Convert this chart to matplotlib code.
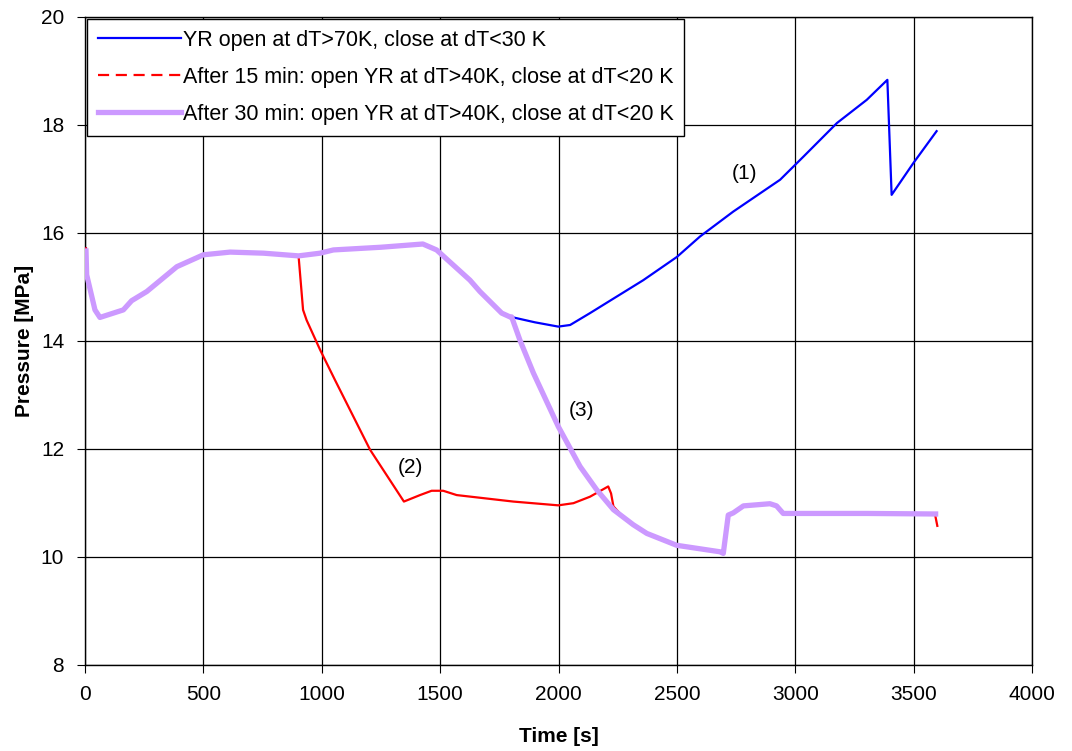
import numpy as np
import matplotlib
matplotlib.use('Agg')
import matplotlib.pyplot as plt
from matplotlib.lines import Line2D

plt.rcParams['font.family'] = ['Liberation Sans', 'DejaVu Sans']

# common start (all three cases identical up to ~900 s)
t_common = [4, 7, 42, 63, 162, 197, 261, 388, 500, 613, 754, 902]
p_common = [15.71, 15.22, 14.57, 14.43, 14.57, 14.74, 14.91, 15.37, 15.59, 15.64, 15.62, 15.57]

# case 1 / 3 shared part 900..1800 s
t_mid = [993, 1049, 1250, 1427, 1485, 1626, 1668, 1760, 1795]
p_mid = [15.62, 15.68, 15.73, 15.79, 15.68, 15.12, 14.91, 14.51, 14.44]

# (1) YR open at dT>70K
t_blue_end = [1809, 1900, 1999, 2049, 2133, 2203, 2358, 2500, 2598, 2738, 2936, 3035, 3176, 3302, 3389, 3407, 3499, 3597]
p_blue_end = [14.43, 14.34, 14.26, 14.29, 14.51, 14.70, 15.12, 15.55, 15.93, 16.39, 16.98, 17.41, 18.03, 18.46, 18.83, 16.70, 17.29, 17.88]

# tail common to (2) and (3)
t_tail = [2316, 2373, 2499, 2682, 2696, 2717, 2738, 2781, 2893, 2921, 2949, 3300, 3590]
p_tail = [10.59, 10.43, 10.21, 10.09, 10.06, 10.77, 10.81, 10.94, 10.98, 10.94, 10.80, 10.80, 10.79]

# (2) after 15 min
t_red_mid = [921, 936, 993, 1056, 1204, 1347, 1415, 1464, 1513, 1570, 1809, 1999, 2063, 2133, 2210, 2222, 2232, 2270]
p_red_mid = [14.57, 14.38, 13.83, 13.27, 11.98, 11.02, 11.14, 11.22, 11.22, 11.14, 11.02, 10.95, 10.99, 11.11, 11.30, 11.17, 10.93, 10.75]
t_red_end = [3600]
p_red_end = [10.57]

# (3) after 30 min
t_lil_mid = [1802, 1837, 1894, 1999, 2091, 2161, 2232]
p_lil_mid = [14.44, 14.01, 13.40, 12.41, 11.67, 11.24, 10.87]

t_blue = t_common + t_mid + t_blue_end
p_blue = p_common + p_mid + p_blue_end
t_red = t_common + t_red_mid + t_tail + t_red_end
p_red = p_common + p_red_mid + p_tail + p_red_end
t_lil = t_common + t_mid + t_lil_mid + t_tail + [3604]
p_lil = p_common + p_mid + p_lil_mid + p_tail + [10.79]

labels = ['YR open at dT>70K, close at dT<30 K',
          'After 15 min: open YR at dT>40K, close at dT<20 K',
          'After 30 min: open YR at dT>40K, close at dT<20 K']

fig = plt.figure(figsize=(10.72, 7.51), dpi=100)
ax = fig.add_axes([0.0793, 0.115, 0.8834, 0.8628])

ax.plot(t_blue, p_blue, color='#0000FF', lw=1.6, zorder=3)
ax.plot(t_red, p_red, color='#FF0000', lw=1.6, zorder=4)
ax.plot(t_lil, p_lil, color='#CC99FF', lw=3.8, zorder=5, solid_capstyle='butt')

ax.text(2787, 17.1, '(1)', fontsize=15, ha='center', va='center')
ax.text(1373, 11.66, '(2)', fontsize=15, ha='center', va='center')
ax.text(2099, 12.71, '(3)', fontsize=15, ha='center', va='center')

ax.set_xlim(0, 4000)
ax.set_ylim(8, 20)
ax.set_xticks(np.arange(0, 4001, 500))
ax.set_yticks(np.arange(8, 21, 2))
ax.grid(True, color='black', lw=0.9)
ax.set_axisbelow(True)
ax.tick_params(direction='out', labelsize=15, length=6, color='black', pad=9)
for s in ax.spines.values():
    s.set_color('black')
    s.set_linewidth(1.0)
ax.set_xlabel('Time [s]', fontsize=15, fontweight='bold', labelpad=16)
ax.set_ylabel('Pressure [MPa]', fontsize=15, fontweight='bold', labelpad=5)

handles = [Line2D([], [], color='#0000FF', lw=1.6),
           Line2D([], [], color='#FF0000', lw=1.6, ls=(0, (5, 3))),
           Line2D([], [], color='#CC99FF', lw=3.8)]
leg = ax.legend(handles, labels, loc='upper left', fontsize=15.5, fancybox=False,
                edgecolor='black', framealpha=1, handlelength=3.85, handletextpad=0.1,
                labelspacing=0.75, borderaxespad=0.1, borderpad=0.5)
leg.get_frame().set_linewidth(1.0)

fig.savefig('out.png', dpi=100)
